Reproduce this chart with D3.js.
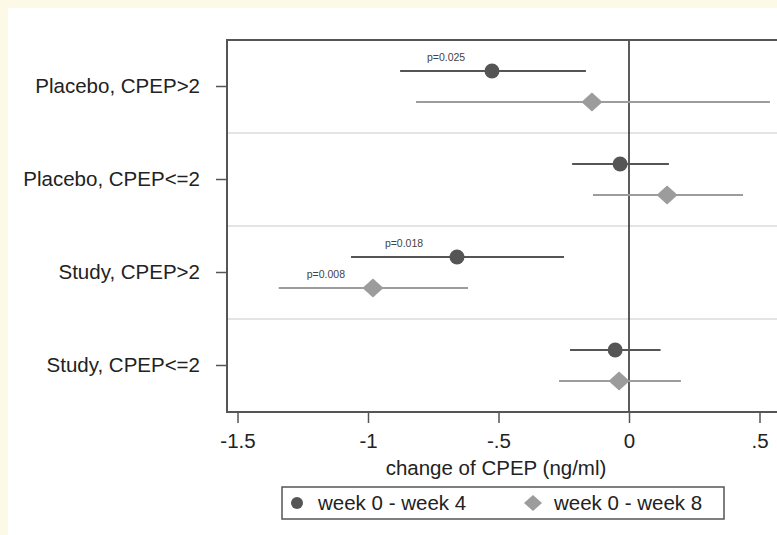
<!DOCTYPE html>
<html>
<head>
<meta charset="utf-8">
<script src="https://cdn.jsdelivr.net/npm/d3@7"></script>
<style>
  body { margin: 0; background: #fdf9e7; }
  text { font-family: "Liberation Sans", Arial, sans-serif; }
</style>
</head>
<body>
<svg id="chart" width="777" height="535"></svg>
<script>
// groups, top to bottom
var categories = ["Placebo, CPEP>2", "Placebo, CPEP<=2", "Study, CPEP>2", "Study, CPEP<=2"];
var seriesNames = ["week 0 - week 4", "week 0 - week 8"];

// week 0 - week 4
var wk4Est = [-0.525, -0.034, -0.659, -0.053];
var wk4Lo  = [-0.877, -0.218, -1.065, -0.226];
var wk4Hi  = [-0.165,  0.153, -0.249,  0.121];
var wk4P   = ["p=0.025", "", "p=0.018", ""];

// week 0 - week 8
var wk8Est = [-0.142,  0.146, -0.981, -0.038];
var wk8Lo  = [-0.816, -0.138, -1.342, -0.268];
var wk8Hi  = [ 0.540,  0.437, -0.617,  0.199];
var wk8P   = ["", "", "p=0.008", ""];

var xTicks = [-1.5, -1, -0.5, 0, 0.5];
var xTickLabels = ["-1.5", "-1", "-.5", "0", ".5"];

var svg = d3.select("#chart");
var fs = 20.5;

// white panel on the cream page
svg.append("rect")
  .attr("x", 8).attr("y", 8)
  .attr("width", 769).attr("height", 527)
  .attr("fill", "#fff");

var plotTop = 40, plotBottom = 412, plotLeft = 227;

var xScale = d3.scaleLinear()
  .domain([0, 0.5])
  .range([629, 759.5]);

var yScale = d3.scaleBand()
  .domain(categories)
  .range([plotTop, plotBottom]);

var subScale = d3.scalePoint()
  .domain(seriesNames)
  .range([0, yScale.bandwidth()])
  .padding(1);

var colors = ["#555555", "#9c9c9c"];

// group separators
svg.selectAll("line.sep")
  .data(categories.slice(1))
  .enter()
  .append("line")
  .attr("class", "sep")
  .attr("x1", plotLeft).attr("x2", 777)
  .attr("y1", (d) => yScale(d)).attr("y2", (d) => yScale(d))
  .attr("stroke", "#e4e4e4")
  .attr("stroke-width", 2);

// zero line
svg.append("line")
  .attr("x1", xScale(0)).attr("x2", xScale(0))
  .attr("y1", plotTop).attr("y2", plotBottom)
  .attr("stroke", "#333")
  .attr("stroke-width", 1.6);

// rows for both series
var rows = [];
categories.forEach(function(c, i) {
  rows.push({cat: c, s: 0, est: wk4Est[i], lo: wk4Lo[i], hi: wk4Hi[i], p: wk4P[i]});
  rows.push({cat: c, s: 1, est: wk8Est[i], lo: wk8Lo[i], hi: wk8Hi[i], p: wk8P[i]});
});
var rowY = (d) => yScale(d.cat) + subScale(seriesNames[d.s]);

svg.selectAll("line.ci")
  .data(rows)
  .enter()
  .append("line")
  .attr("class", "ci")
  .attr("x1", (d) => xScale(d.lo))
  .attr("x2", (d) => Math.min(xScale(d.hi), 777))
  .attr("y1", rowY).attr("y2", rowY)
  .attr("stroke", (d) => colors[d.s])
  .attr("stroke-width", 2);

svg.selectAll("text.p")
  .data(rows.filter((d) => d.p))
  .enter()
  .append("text")
  .attr("class", "p")
  .attr("x", (d) => xScale((d.lo + d.est) / 2))
  .attr("y", (d) => rowY(d) - 10)
  .attr("text-anchor", "middle")
  .attr("font-size", 10.5)
  .attr("fill", "#444")
  .text((d) => d.p);

var circleSym = d3.symbol().type(d3.symbolCircle).size(Math.PI * 7.5 * 7.5);
var diamond = "M0,-9.5L10.5,0L0,9.5L-10.5,0Z";

svg.selectAll("path.pt")
  .data(rows)
  .enter()
  .append("path")
  .attr("class", "pt")
  .attr("transform", (d) => "translate(" + xScale(d.est) + "," + rowY(d) + ")")
  .attr("d", (d) => d.s === 0 ? circleSym() : diamond)
  .attr("fill", (d) => colors[d.s]);

// frame
svg.append("path")
  .attr("d", "M777," + plotTop + "H" + plotLeft + "V" + plotBottom + "H777")
  .attr("fill", "none")
  .attr("stroke", "#555")
  .attr("stroke-width", 2);

// y axis
var yAxis = d3.axisLeft(yScale).tickSize(10).tickPadding(16);
var gy = svg.append("g")
  .attr("transform", "translate(" + (plotLeft - 1) + ",0)")
  .call(yAxis);
gy.select(".domain").remove();
gy.selectAll("line").attr("stroke", "#555").attr("stroke-width", 1.5);
gy.selectAll("text").attr("font-size", fs).attr("fill", "#222");

// x axis
var xAxis = d3.axisBottom(xScale)
  .tickValues(xTicks)
  .tickFormat((d, i) => xTickLabels[i])
  .tickSize(10).tickPadding(10);
var gx = svg.append("g")
  .attr("transform", "translate(0," + (plotBottom + 1) + ")")
  .call(xAxis);
gx.select(".domain").remove();
gx.selectAll("line").attr("stroke", "#555").attr("stroke-width", 1.5);
gx.selectAll("text").attr("font-size", fs).attr("fill", "#222");

svg.append("text")
  .attr("x", 496).attr("y", 475)
  .attr("text-anchor", "middle")
  .attr("font-size", fs)
  .attr("fill", "#222")
  .text("change of CPEP (ng/ml)");

// legend
svg.append("rect")
  .attr("x", 282).attr("y", 487)
  .attr("width", 442).attr("height", 32)
  .attr("fill", "#fff")
  .attr("stroke", "#555")
  .attr("stroke-width", 1.5);

var legendX = [297, 533];
var lg = svg.selectAll("g.leg")
  .data(seriesNames)
  .enter()
  .append("g")
  .attr("class", "leg")
  .attr("transform", (d, i) => "translate(" + legendX[i] + ",503)");
lg.append("path")
  .attr("d", (d, i) => i === 0 ? d3.symbol().type(d3.symbolCircle).size(Math.PI * 36)() : "M0,-8L9,0L0,8L-9,0Z")
  .attr("fill", (d, i) => colors[i]);
lg.append("text")
  .attr("x", 21).attr("y", 7)
  .attr("font-size", fs)
  .attr("fill", "#222")
  .text((d) => d);
</script>
</body>
</html>
